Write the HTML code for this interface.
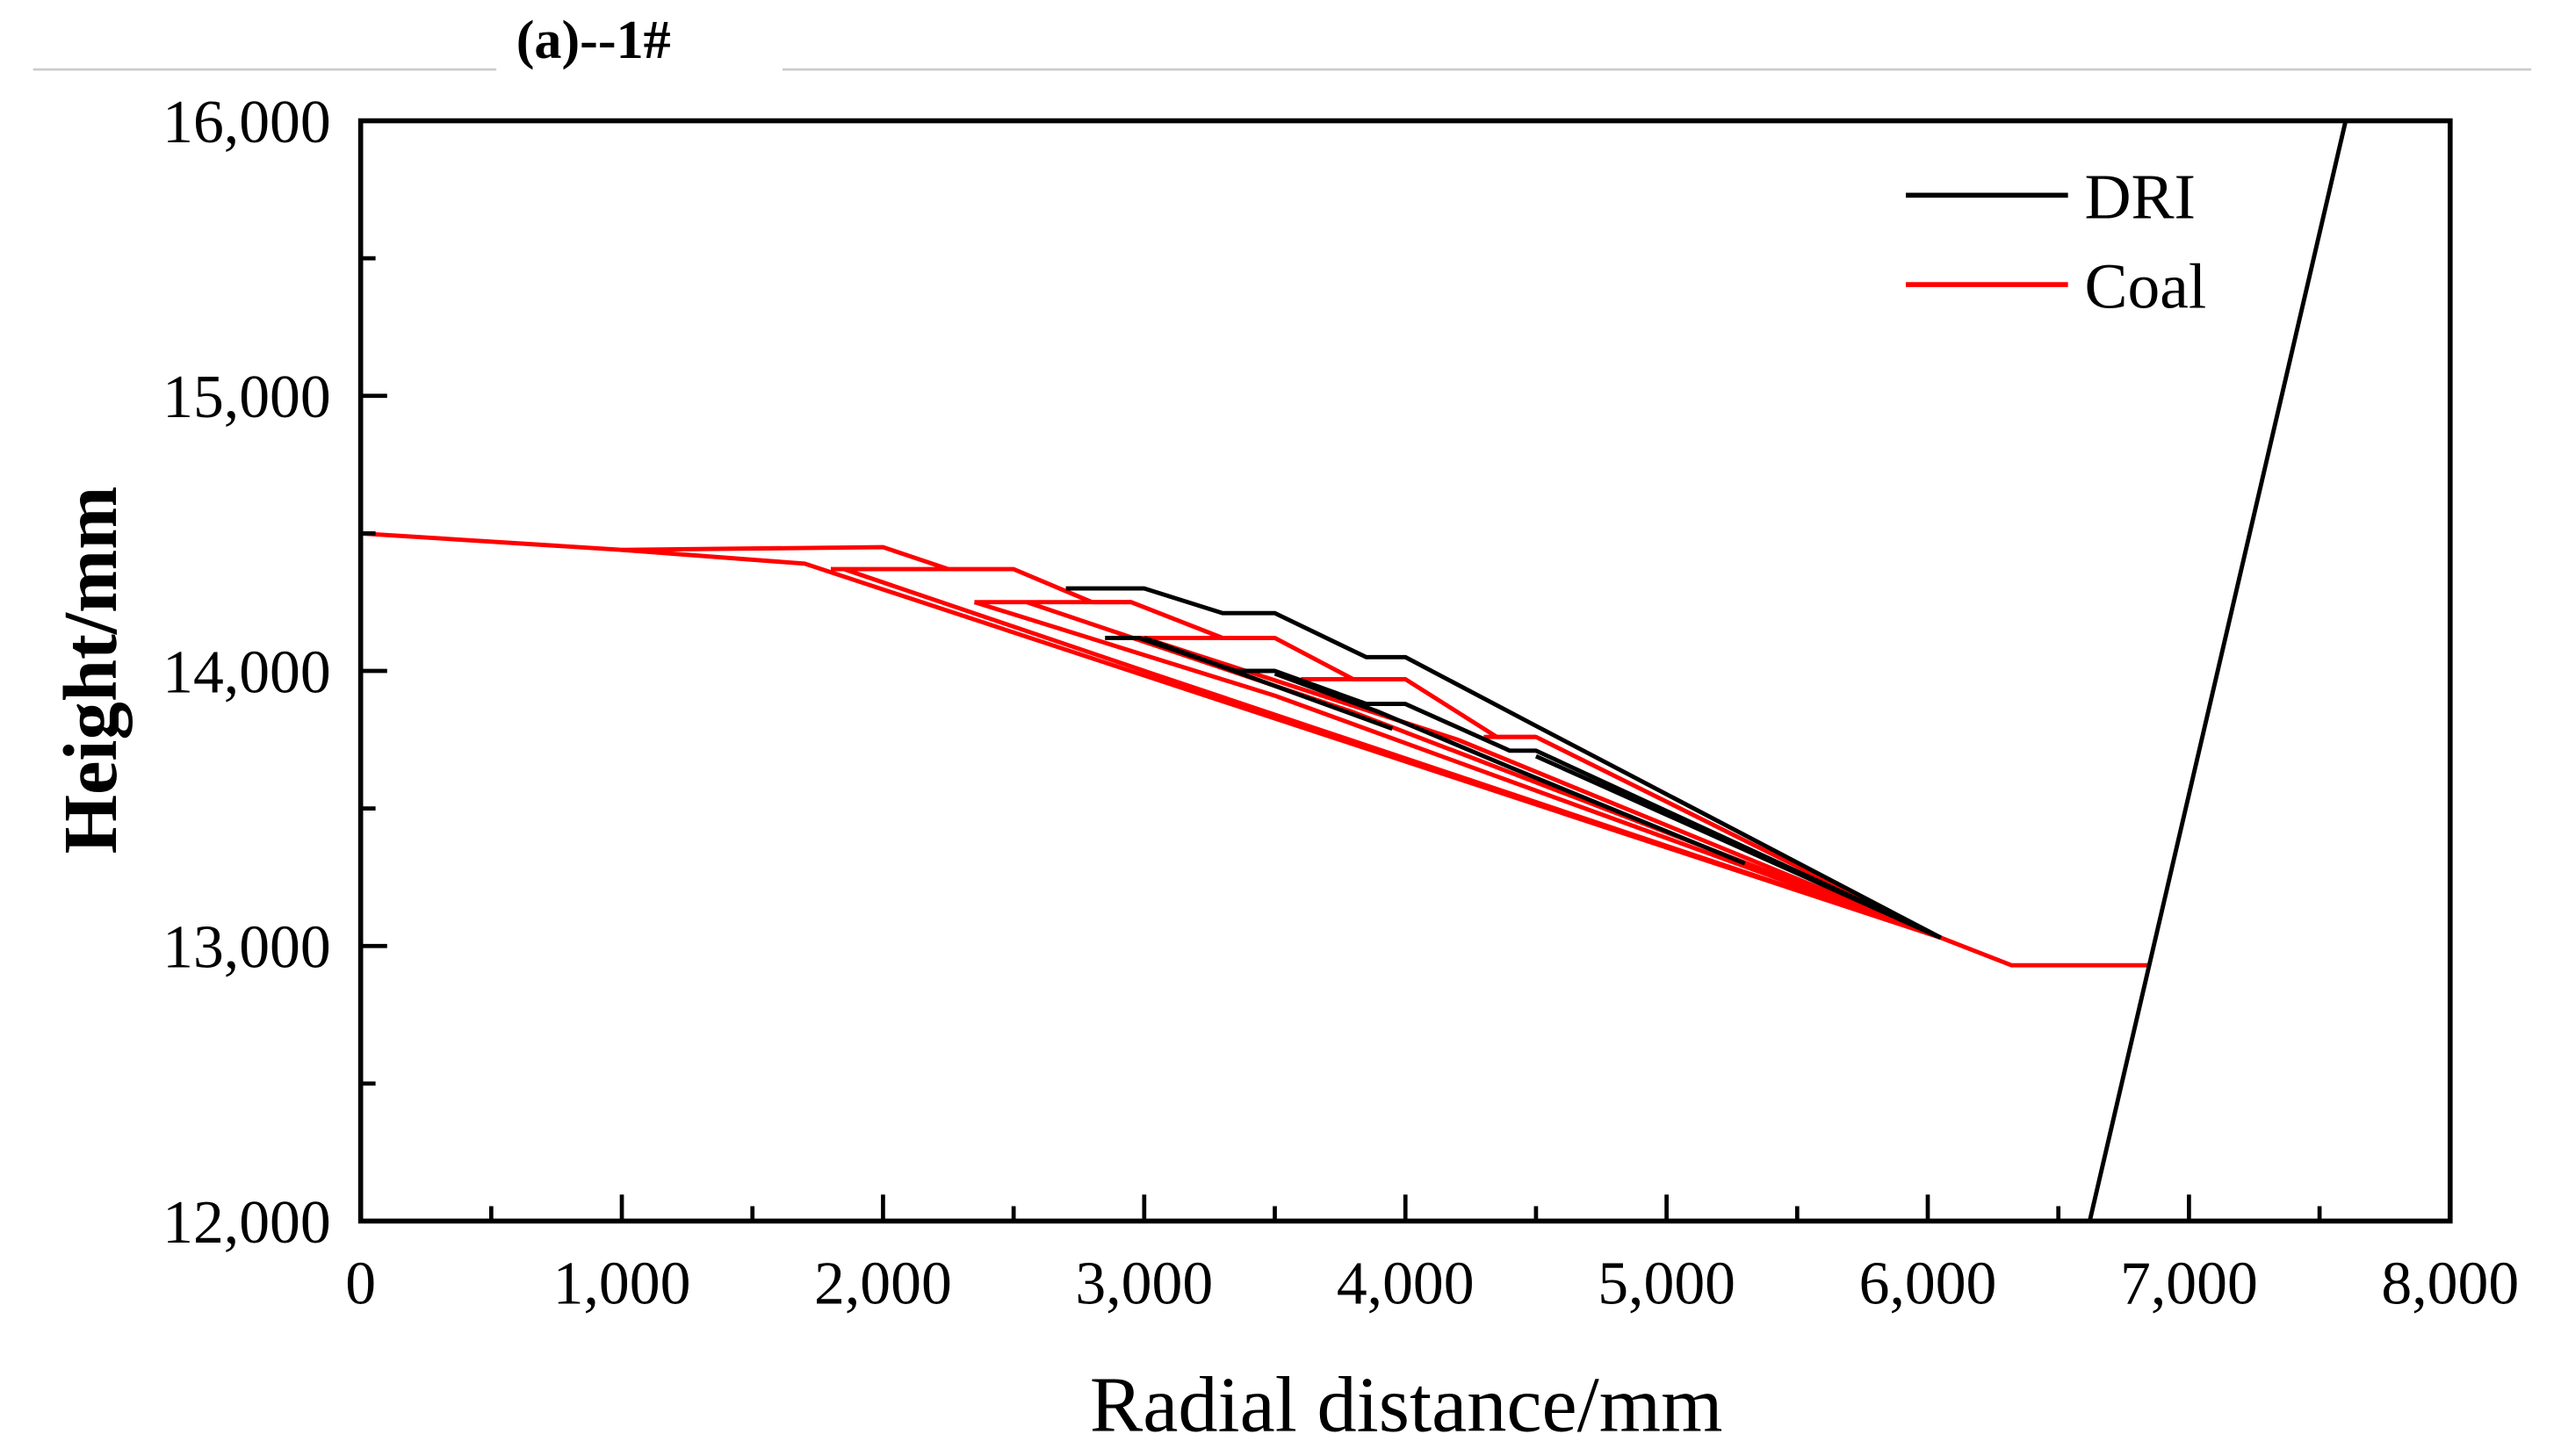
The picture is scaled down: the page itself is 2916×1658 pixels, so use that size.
<!DOCTYPE html>
<html><head><meta charset="utf-8"><style>
html,body{margin:0;padding:0;background:#fff;}
svg{display:block;}
text{font-family:"Liberation Serif",serif;fill:#000;}
</style></head><body>
<svg id="chart" width="2916" height="1658" viewBox="0 0 1548 880" preserveAspectRatio="none" xmlns="http://www.w3.org/2000/svg">
<line x1="20" y1="42" x2="300" y2="42" stroke="#ccc" stroke-width="1.5"/>
<line x1="473" y1="42" x2="1530" y2="42" stroke="#ccc" stroke-width="1.5"/>
<text x="312" y="35" font-size="33" font-weight="bold">(a)--1#</text>
<g id="plot"></g>
<text x="850" y="865" font-size="48" text-anchor="middle">Radial distance/mm</text>
<text transform="translate(70,405) rotate(-90)" font-size="46" font-weight="bold" text-anchor="middle">Height/mm</text>
<g>
<line x1="1152" y1="118" x2="1250" y2="118" stroke="#000" stroke-width="3"/>
<text x="1260" y="132" font-size="39">DRI</text>
<line x1="1152" y1="172" x2="1250" y2="172" stroke="#f00" stroke-width="3"/>
<text x="1260" y="186" font-size="39">Coal</text>
</g>
</svg>
<script>
const xTicks=[0,1000,2000,3000,4000,5000,6000,7000,8000];
const xTickLabels=["0","1,000","2,000","3,000","4,000","5,000","6,000","7,000","8,000"];
const yTicks=[12000,13000,14000,15000,16000];
const yTickLabels=["12,000","13,000","14,000","15,000","16,000"];
const driLines=[
 [[2700,14300],[3000,14300],[3300,14210],[3500,14210],[3850,14050],[4000,14050],[4500,13800],[6050,13030]],
 [[2850,14120],[2980,14120],[3350,14000],[3500,14000],[3850,13880],[4000,13880],[4400,13710],[4500,13710],[6050,13030]],
 [[3000,14120],[3400,13980],[3950,13790]],
 [[3500,13990],[3900,13850],[4400,13650],[5300,13300]],
 [[4500,13690],[6050,13030]],
 [[6620,12000],[7600,16000]]
];
const coalLines=[
 [[0,14500],[1000,14440],[2000,14450],[2250,14370],[2500,14370],[2800,14250],[2950,14250],[3300,14120],[3500,14120],[3800,13970],[4000,13970],[4350,13760],[4500,13760],[6050,13030]],
 [[1000,14440],[1700,14390],[6050,13030]],
 [[1800,14370],[2250,14370]],
 [[1850,14370],[3000,14000],[6050,13030]],
 [[2350,14250],[2950,14250]],
 [[2350,14250],[3500,13910],[6050,13030]],
 [[2550,14250],[3800,13850],[6050,13030]],
 [[2900,14120],[3500,14120]],
 [[3000,14120],[4200,13750],[6050,13030]],
 [[3600,13970],[4000,13970]],
 [[4300,13760],[4500,13760]],
 [[6050,13030],[6320,12930],[6850,12930]]
];
const L=218,R=1481,T=73,B=738;
function sx(v){return L+(v-0)/(8000-0)*(R-L);}
function sy(v){return B-(v-12000)/(16000-12000)*(B-T);}
const NS="http://www.w3.org/2000/svg";
const plot=document.getElementById('plot');
function mk(tag,attrs,parent){const e=document.createElementNS(NS,tag);for(const k in attrs)e.setAttribute(k,attrs[k]);(parent||plot).appendChild(e);return e;}
coalLines.forEach((ln,i)=>{
 const p=mk('polyline',{points:ln.map(d=>sx(d[0])+','+sy(d[1])).join(' '),fill:'none',stroke:'#f00','stroke-width':2.6,'stroke-linejoin':'round'});
 
 
});
driLines.forEach((ln,i)=>{
 const p=mk('polyline',{points:ln.map(d=>sx(d[0])+','+sy(d[1])).join(' '),fill:'none',stroke:'#000','stroke-width':2.6,'stroke-linejoin':'round'});
 
 
});
const frame=mk('rect',{x:L,y:T,width:R-L,height:B-T,fill:'none',stroke:'#000','stroke-width':3});


xTicks.forEach((v,i)=>{
 const t=mk('line',{x1:sx(v),y1:B,x2:sx(v),y2:B-16,stroke:'#000','stroke-width':2.5});
 
 
 if(i<xTicks.length-1){
  const m=mk('line',{x1:sx(v+500),y1:B,x2:sx(v+500),y2:B-9,stroke:'#000','stroke-width':2.5});
  
  
 }
 const lb=mk('text',{x:sx(v),y:788,'font-size':37,'text-anchor':'middle'});
 lb.textContent=xTickLabels[i];
 
 
});
yTicks.forEach((v,i)=>{
 const t=mk('line',{x1:L,y1:sy(v),x2:L+16,y2:sy(v),stroke:'#000','stroke-width':2.5});
 
 
 if(i<yTicks.length-1){
  const m=mk('line',{x1:L,y1:sy(v+500),x2:L+9,y2:sy(v+500),stroke:'#000','stroke-width':2.5});
  
  
 }
 const lb=mk('text',{x:200,y:sy(v)+13,'font-size':37,'text-anchor':'end'});
 lb.textContent=yTickLabels[i];
 
 
});
</script>
</body></html>
